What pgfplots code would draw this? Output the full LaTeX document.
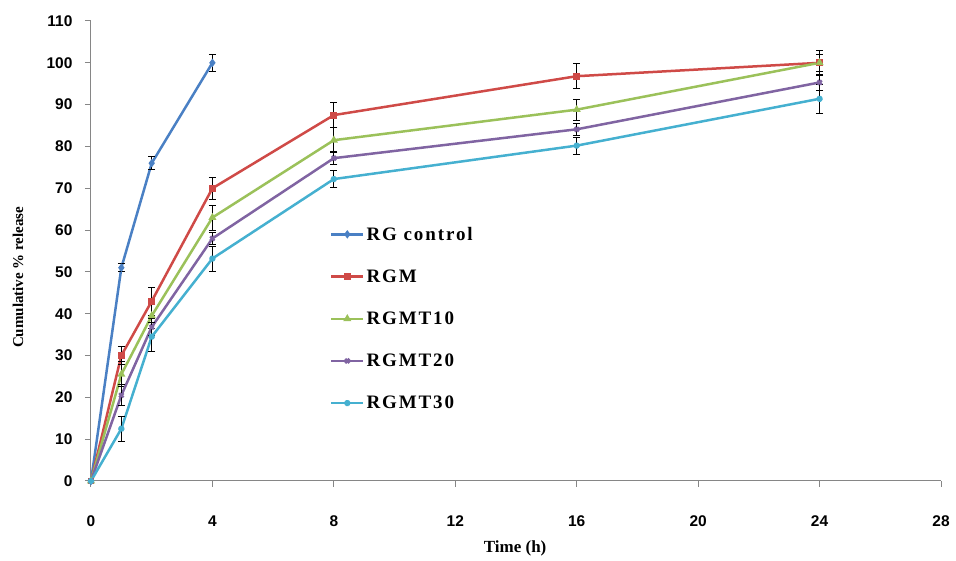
\documentclass[border=0pt]{standalone}
\usepackage{fontspec}
\setmainfont{Liberation Serif}
\newfontfamily\arialfont{Liberation Sans}
\newfontfamily\legfont[LetterSpace=10]{Liberation Serif}
\usepackage{pgfplots}
\pgfplotsset{compat=1.18}

\definecolor{cBlue}{HTML}{4A80C4}
\definecolor{cRed}{HTML}{CF4A47}
\definecolor{cGreen}{HTML}{9BC15A}
\definecolor{cPurple}{HTML}{8064A2}
\definecolor{cCyan}{HTML}{45B0D0}
\definecolor{axgray}{HTML}{868686}

\begin{document}
\begin{tikzpicture}
\useasboundingbox (-91pt,-80pt) rectangle (865pt,481pt);
\begin{axis}[
    at={(0,0)}, anchor=south west,
    scale only axis,
    width=850pt, height=460pt,
    xmin=0, xmax=28, ymin=0, ymax=110,
    xtick={0,4,...,28},
    ytick={0,10,...,110},
    axis x line*=bottom,
    axis y line*=left,
    axis line style={axgray, line width=1pt},
    tick style={axgray, line width=1pt},
    tick align=outside,
    major tick length=6pt,
    /pgf/number format/assume math mode=true,
    ticklabel style={font=\fontsize{15.5}{17}\selectfont\arialfont\bfseries, text=black},
    xticklabel style={yshift=-25pt},
    yticklabel style={xshift=-9pt},
    xlabel={Time (h)},
    ylabel={Cumulative \% release},
    xlabel style={font=\fontsize{17}{19}\selectfont\bfseries, at={(rel axis cs:0.499,0)}, anchor=center, yshift=-67pt},
    ylabel style={font=\fontsize{15}{17}\selectfont\bfseries, at={(rel axis cs:0,0.443)}, anchor=center, yshift=73pt},
    legend cell align=left,
    legend style={draw=none, fill=none, at={(rel axis cs:0.281,0.557)}, anchor=north west,
        font=\fontsize{19}{21}\selectfont\legfont\bfseries, row sep=24pt, inner sep=0pt},
    legend image code/.code={\draw[mark repeat=2,mark phase=2] plot coordinates {(0pt,0pt) (16pt,0pt) (32pt,0pt)};},
    every axis plot/.append style={line width=2.5pt, mark size=2.2pt},
    error bars/y dir=both,
    error bars/y explicit,
    error bars/error bar style={black, line width=0.9pt},
    error bars/error mark options={black, rotate=90, mark size=3.5pt, line width=0.9pt},
]
\addplot[cBlue, mark=diamond*] coordinates {
    (0,0) +- (0,0)
    (1,51) +- (0,1)
    (2,76) +- (0,1.6)
    (4,100) +- (0,2)
};
\addplot[cRed, mark=square*] coordinates {
    (0,0) +- (0,0)
    (1,30) +- (0,2.2)
    (2,43) +- (0,3.4)
    (4,70) +- (0,2.7)
    (8,87.5) +- (0,3)
    (16,96.8) +- (0,3)
    (24,100) +- (0,3)
};
\addplot[cGreen, mark=triangle*] coordinates {
    (0,0) +- (0,0)
    (1,25.5) +- (0,3)
    (2,39.5) +- (0,3)
    (4,63) +- (0,3)
    (8,81.5) +- (0,3)
    (16,88.8) +- (0,2.5)
    (24,100) +- (0,2)
};
\addplot[cPurple, mark=x, mark size=3pt] coordinates {
    (0,0) +- (0,0)
    (1,20.5) +- (0,2.5)
    (2,36.8) +- (0,2)
    (4,58) +- (0,1.5)
    (8,77.2) +- (0,1.5)
    (16,84.1) +- (0,1.5)
    (24,95.3) +- (0,2)
};
\addplot[cCyan, mark=asterisk, mark size=3pt] coordinates {
    (0,0) +- (0,0)
    (1,12.5) +- (0,3)
    (2,34.5) +- (0,3.5)
    (4,53.2) +- (0,3)
    (8,72.2) +- (0,2)
    (16,80.2) +- (0,2)
    (24,91.4) +- (0,3.4)
};
\legend{RG control, RGM, RGMT10, RGMT20, RGMT30}
\end{axis}
\end{tikzpicture}
\end{document}
